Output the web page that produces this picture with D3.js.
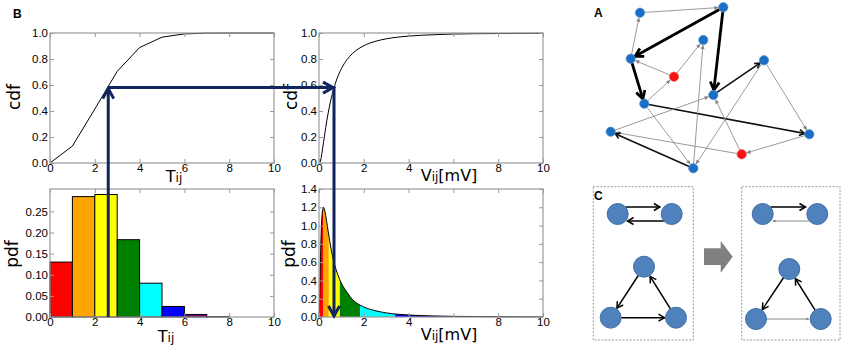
<!DOCTYPE html>
<html>
<head>
    <title>Synaptic delay and weight distributions</title>
    <script src="https://cdn.jsdelivr.net/npm/d3@7"></script>
    <style>
        body { margin: 0; background: #fff; }
        svg { display: block; font-family: "DejaVu Sans", sans-serif; }
        .tick text { font-size: 11.5px; fill: #000; }
        .tick line { stroke: #999; }
        .panel-letter { font-family: Arial, "Liberation Sans", sans-serif; font-weight: bold; font-size: 12px; }
    </style>
</head>
<body>
    <svg width="843" height="352" id="mainsvg"></svg>
    <script>
        // ---- data ----
        const xTicks = [0, 2, 4, 6, 8, 10];

        // histogram of T_ij (bin width 1)
        const tBinStart = [0, 1, 2, 3, 4, 5, 6, 7, 8, 9];
        const tPdf = [0.130, 0.285, 0.290, 0.183, 0.080, 0.025, 0.006, 0.001, 0, 0];
        const binColors = ['red', 'orange', 'yellow', 'green', 'cyan', 'blue', 'purple', 'black', 'black', 'black'];

        // cdf of T_ij
        const tCdfX = [0, 1, 2, 3, 4, 5, 6, 7, 8, 9, 10];
        const tCdf = [0, 0.13, 0.415, 0.705, 0.888, 0.968, 0.993, 0.999, 1.0, 1.0, 1.0];

        // V_ij distribution (sampled off the curves)
        const vX   = [0, 0.02, 0.05, 0.1, 0.15, 0.2, 0.25, 0.3, 0.4, 0.5, 0.6, 0.7, 0.8, 1.0, 1.25, 1.5, 2, 2.5, 3, 4, 5, 6, 8, 10];
        const vPdf = [0, 0.09, 0.46, 0.94, 1.15, 1.20, 1.17, 1.11, 0.95, 0.80, 0.67, 0.57, 0.49, 0.37, 0.27, 0.19, 0.11, 0.07, 0.045, 0.022, 0.012, 0.007, 0.003, 0.001];
        const vCdf = [0, 0.001, 0.008, 0.044, 0.10, 0.156, 0.215, 0.273, 0.376, 0.463, 0.536, 0.596, 0.647, 0.726, 0.795, 0.843, 0.902, 0.935, 0.955, 0.976, 0.986, 0.992, 0.996, 0.998];
        // quantile bands matching the T_ij bins
        const vBandEdges = [0, 0.18, 0.44, 0.93, 1.83, 3.4, 6.4, 9.6, 10];

        // mapping example drawn with arrows
        const tPick = 2.6, cdfPick = 0.58, vPick = 0.67;

        // network (panel A), positions in panel units
        const netX = [60, 143.3, 123.3, 50.7, 94, 184, 133.3, 64.3, 30.7, 229.3, 161.7, 113.3];
        const netY = [12.7, 7.3, 40, 58.7, 76.7, 60.3, 95, 103.7, 131.7, 134.3, 154.3, 168.3];
        const netRed = [false, false, false, false, true, false, false, false, false, false, true, false];
        const netEdges = [
            [0, 1, 'thin'], [1, 3, 'thick'], [1, 6, 'thick'], [3, 0, 'thin'], [3, 7, 'thick'],
            [4, 3, 'thin'], [4, 2, 'thin'], [7, 4, 'thin'], [6, 5, 'mid'], [7, 9, 'mid'],
            [8, 6, 'thin'], [10, 8, 'thin'], [11, 8, 'mid'], [7, 11, 'thin'], [11, 2, 'thin'],
            [5, 11, 'thin'], [5, 9, 'thin'], [10, 6, 'thin'], [9, 10, 'thin']
        ];

        const svg = d3.select('#mainsvg');
        const navy = '#10245f';

        // ---- panel B plots ----
        function makePlot(x0, x1, y0, y1, xMax, yMax, xFmt, yTicks, yFmt) {
            const x = d3.scaleLinear().domain([0, xMax]).range([x0, x1]);
            const y = d3.scaleLinear().domain([0, yMax]).range([y1, y0]);
            const g = svg.append('g');
            const layer = g.append('g');
            const ax = g.append('g');
            ax.append('g').attr('transform', `translate(0,${y1})`)
                .call(d3.axisBottom(x).tickValues(xTicks).tickSize(-4).tickPadding(1).tickFormat(xFmt));
            ax.append('g').attr('transform', `translate(0,${y0})`)
                .call(d3.axisTop(x).tickValues(xTicks).tickSize(-4).tickFormat(''));
            ax.append('g').attr('transform', `translate(${x0},0)`)
                .call(d3.axisLeft(y).tickValues(yTicks).tickSize(-4).tickPadding(2).tickFormat(yFmt));
            ax.append('g').attr('transform', `translate(${x1},0)`)
                .call(d3.axisRight(y).tickValues(yTicks).tickSize(-4).tickFormat(''));
            ax.selectAll('.domain').remove();
            g.append('rect')
                .attr('x', x0).attr('y', y0).attr('width', x1 - x0).attr('height', y1 - y0)
                .attr('fill', 'none').attr('stroke', '#999').attr('stroke-width', 1.2);
            return { x, y, layer };
        }

        const unitTicks = [0, 0.2, 0.4, 0.6, 0.8, 1.0];
        const fmtAll = d3.format('d');
        // on the V axes the "6" is hidden under the axis label
        const fmtV = d => d === 6 ? '' : d3.format('d')(d);
        const tl = makePlot(50, 274, 33, 163, 10, 1, fmtAll, unitTicks, d3.format('.1f'));
        const bl = makePlot(50, 274, 189, 317, 10, 0.303, fmtAll, [0, 0.05, 0.10, 0.15, 0.20, 0.25], d3.format('.2f'));
        const tr = makePlot(319, 543, 33, 163, 10, 1, fmtV, unitTicks, d3.format('.1f'));
        const br = makePlot(319, 543, 189, 317, 10, 1.4, fmtV, [0, 0.2, 0.4, 0.6, 0.8, 1.0, 1.2, 1.4], d3.format('.1f'));

        // T cdf
        tl.layer.append('path')
            .datum(tCdfX.map((d, i) => [d, tCdf[i]]))
            .attr('fill', 'none').attr('stroke', '#000').attr('stroke-width', 1)
            .attr('d', d3.line().x(d => tl.x(d[0])).y(d => tl.y(d[1])));

        // T histogram
        bl.layer.selectAll('rect.bar')
            .data(tBinStart.map((d, i) => ({ x: d, v: tPdf[i], c: binColors[i] })).filter(d => d.v > 0))
            .enter().append('rect')
            .attr('class', 'bar')
            .attr('x', d => bl.x(d.x))
            .attr('width', d => bl.x(d.x + 1) - bl.x(d.x))
            .attr('y', d => bl.y(d.v))
            .attr('height', d => bl.y(0) - bl.y(d.v))
            .attr('fill', d => d.c).attr('stroke', '#000').attr('stroke-width', 1);

        // V cdf
        tr.layer.append('path')
            .datum(vX.map((d, i) => [d, vCdf[i]]))
            .attr('fill', 'none').attr('stroke', '#000').attr('stroke-width', 1)
            .attr('d', d3.line().x(d => tr.x(d[0])).y(d => tr.y(d[1])).curve(d3.curveMonotoneX));

        // V pdf, coloured by quantile band
        const vPts = vX.map((d, i) => [d, vPdf[i]]);
        const vArea = d3.area().x(d => br.x(d[0])).y0(br.y(0)).y1(d => br.y(d[1])).curve(d3.curveMonotoneX);
        const defs = svg.append('defs');
        vBandEdges.slice(0, -1).forEach((e, i) => {
            const id = 'band' + i;
            defs.append('clipPath').attr('id', id).append('rect')
                .attr('x', br.x(e)).attr('y', br.y(1.4))
                .attr('width', br.x(vBandEdges[i + 1]) - br.x(e))
                .attr('height', br.y(0) - br.y(1.4));
            br.layer.append('path').datum(vPts)
                .attr('clip-path', `url(#${id})`)
                .attr('fill', binColors[i]).attr('d', vArea);
        });
        br.layer.append('path').datum(vPts)
            .attr('fill', 'none').attr('stroke', '#000').attr('stroke-width', 1)
            .attr('d', d3.line().x(d => br.x(d[0])).y(d => br.y(d[1])).curve(d3.curveMonotoneX));

        // axis labels
        function xLabel(cx, by, big, small, tail) {
            const t = svg.append('text').attr('x', cx).attr('y', by).attr('text-anchor', 'middle');
            t.append('tspan').attr('font-size', 16).text(big);
            t.append('tspan').attr('font-size', 12).text(small);
            if (tail) t.append('tspan').attr('font-size', 16).text(tail);
        }
        xLabel(174, 182, 'T', 'ij');
        xLabel(166, 342, 'T', 'ij');
        xLabel(449, 181, 'V', 'ij', '[mV]');
        xLabel(449, 340, 'V', 'ij', '[mV]');

        function yLabel(cx, cy, s) {
            svg.append('text')
                .attr('transform', `translate(${cx},${cy}) rotate(-90)`)
                .attr('text-anchor', 'middle').attr('dy', '0.35em')
                .attr('font-size', 17).text(s);
        }
        yLabel(14, 97, 'cdf');
        yLabel(12, 254, 'pdf');
        yLabel(291, 97, 'cdf');
        yLabel(289, 254, 'pdf');

        // mapping arrows
        function chevron(g, tx, ty, ang, len, half, color, w) {
            const ca = Math.cos(ang), sa = Math.sin(ang);
            const p = (a, b) => [tx - a * ca + b * sa, ty - a * sa - b * ca];
            g.append('path')
                .attr('d', d3.line()([p(len, half), [tx, ty], p(len, -half)]))
                .attr('fill', 'none').attr('stroke', color).attr('stroke-width', w)
                .attr('stroke-linejoin', 'miter');
        }
        const arr = svg.append('g');
        const ax1 = tl.x(tPick), ay1 = tl.y(cdfPick), ax2 = tr.x(vPick);
        arr.append('path')
            .attr('d', d3.line()([[ax1, bl.y(0)], [ax1, ay1 + 1]]))
            .attr('stroke', navy).attr('stroke-width', 3).attr('fill', 'none');
        arr.append('path')
            .attr('d', d3.line()([[ax1, ay1], [ax2, ay1], [ax2, br.y(0) - 1]]))
            .attr('stroke', navy).attr('stroke-width', 3).attr('fill', 'none');
        chevron(arr, ax1, ay1 + 1, -Math.PI / 2, 10, 5.5, navy, 3);
        chevron(arr, ax2 - 1, ay1, 0, 10, 5.5, navy, 3);
        chevron(arr, ax2, br.y(0) - 1, Math.PI / 2, 10, 5.5, navy, 3);

        // ---- generic arrow between circles ----
        function edge(g, xa, ya, xb, yb, ra, rb, opt) {
            const dx = xb - xa, dy = yb - ya, d = Math.hypot(dx, dy);
            const ux = dx / d, uy = dy / d;
            const sx = xa + ux * ra, sy = ya + uy * ra;
            const ex = xb - ux * rb, ey = yb - uy * rb;
            g.append('path').attr('d', d3.line()([[sx, sy], [ex, ey]]))
                .attr('stroke', opt.color).attr('stroke-width', opt.w).attr('fill', 'none');
            const ang = Math.atan2(uy, ux);
            if (opt.head === 'open') {
                chevron(g, ex, ey, ang, opt.len, opt.half, opt.color, opt.w);
            } else if (opt.head === 'fill') {
                const ca = Math.cos(ang), sa = Math.sin(ang);
                const p = (a, b) => [ex - a * ca + b * sa, ey - a * sa - b * ca];
                g.append('path').attr('d', d3.line()([p(opt.len, opt.half), [ex, ey], p(opt.len, -opt.half)]) + 'Z')
                    .attr('fill', opt.color).attr('stroke', 'none');
            }
        }

        // ---- panel A network ----
        const sxA = d3.scaleLinear().domain([0, 263]).range([580, 843]);
        const syA = d3.scaleLinear().domain([0, 185]).range([0, 185]);
        const gA = svg.append('g');
        const edgeStyle = {
            thick: { color: '#000', w: 2.8, head: 'open', len: 8, half: 4.5 },
            mid:   { color: '#111', w: 1.6, head: 'open', len: 5, half: 3 },
            thin:  { color: '#808080', w: 0.8, head: 'fill', len: 4, half: 2 }
        };
        netEdges.forEach(([a, b, k]) => {
            edge(gA, sxA(netX[a]), syA(netY[a]), sxA(netX[b]), syA(netY[b]), 4.5, 5, edgeStyle[k]);
        });
        gA.selectAll('circle').data(netX.map((d, i) => i)).enter().append('circle')
            .attr('cx', i => sxA(netX[i])).attr('cy', i => syA(netY[i])).attr('r', 4.7)
            .attr('fill', i => netRed[i] ? '#f41414' : '#1a6fc4')
            .attr('stroke', i => netRed[i] ? '#f06060' : '#5a95d0').attr('stroke-width', 0.6);

        // ---- panel C motifs ----
        const gC = svg.append('g');
        const boxes = [[593.3, 186.7, 100, 153.3], [741.7, 186.7, 98.3, 153.3]];
        boxes.forEach(b => gC.append('rect')
            .attr('x', b[0]).attr('y', b[1]).attr('width', b[2]).attr('height', b[3])
            .attr('fill', 'none').attr('stroke', '#999').attr('stroke-width', 1).attr('stroke-dasharray', '2,1.5'));

        const motifNodes = [
            [[617.7, 214], [671.7, 214], [644, 266.7], [610.7, 317.7], [676, 317.7]],
            [[762.7, 214], [817.3, 214], [789.3, 269], [756, 319], [820.7, 319]]
        ];
        const strong = { color: '#000', w: 1.5, head: 'open', len: 6, half: 3.5 };
        const weak = { color: '#888', w: 1, head: 'fill', len: 3, half: 1.5 };
        const R = 10.5;
        motifNodes.forEach((n, k) => {
            // reciprocal pair (lines offset above and below centres)
            const off = 7, inset = Math.sqrt(R * R - off * off);
            edge(gC, n[0][0] + inset, n[0][1] - off, n[1][0] - inset, n[1][1] - off, 0, 4, strong);
            edge(gC, n[1][0] - inset, n[1][1] + off, n[0][0] + inset, n[0][1] + off, 0, 2, k === 0 ? strong : weak);
            // triangle
            edge(gC, n[2][0], n[2][1], n[3][0], n[3][1], R, R + 1, strong);
            edge(gC, n[3][0], n[3][1], n[4][0], n[4][1], R, R + 1, k === 0 ? strong : weak);
            edge(gC, n[4][0], n[4][1], n[2][0], n[2][1], R, R + 1, strong);
            n.forEach(p => gC.append('circle').attr('cx', p[0]).attr('cy', p[1]).attr('r', R)
                .attr('fill', '#4f81bd').attr('stroke', '#3f6fa6').attr('stroke-width', 1));
        });

        // grey block arrow between the motifs
        const blockArrow = [[704, 248.3], [720.7, 248.3], [720.7, 241], [732.7, 256.7], [720.7, 272.7], [720.7, 265], [704, 265]];
        gC.append('path').attr('d', d3.line()(blockArrow) + 'Z').attr('fill', '#808080');

        // panel letters
        svg.append('text').attr('class', 'panel-letter').attr('x', 13).attr('y', 17.5).text('B');
        svg.append('text').attr('class', 'panel-letter').attr('x', 594).attr('y', 17).text('A');
        svg.append('text').attr('class', 'panel-letter').attr('x', 594).attr('y', 200).text('C');
    </script>
</body>
</html>
